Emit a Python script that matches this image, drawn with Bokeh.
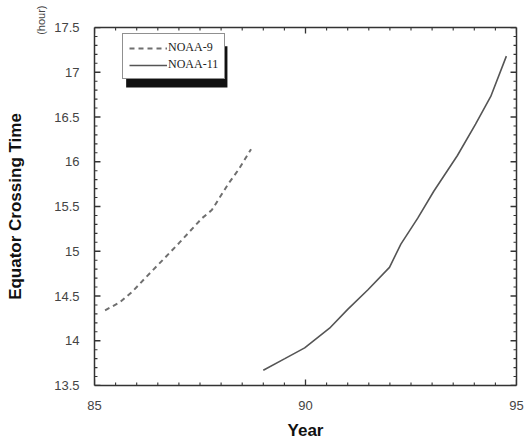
from bokeh.plotting import figure
from bokeh.models import (Range1d, LinearAxis, Legend, LegendItem, Title,
                          FixedTicker, BoxAnnotation)
from bokeh.embed import file_html
from bokeh.resources import INLINE

# --- data ---
noaa9_year = [85.25, 85.6, 85.9, 86.2, 86.53, 87.0, 87.55, 87.78, 88.18, 88.41, 88.71]
noaa9_time = [14.34, 14.43, 14.55, 14.70, 14.86, 15.09, 15.37, 15.46, 15.76, 15.91, 16.14]
noaa11_year = [89.0, 89.51, 89.98, 90.57, 91.0, 91.48, 91.99, 92.26, 92.66, 93.04, 93.6, 94.03, 94.39, 94.76]
noaa11_time = [13.67, 13.80, 13.92, 14.14, 14.35, 14.57, 14.82, 15.08, 15.37, 15.67, 16.07, 16.42, 16.73, 17.18]
x_ticks = [85, 90, 95]
x_minor = [85.5, 86, 86.5, 87, 87.5, 88, 88.5, 89, 89.5, 90.5, 91, 91.5, 92, 92.5, 93, 93.5, 94, 94.5]
y_ticks = [13.5, 14, 14.5, 15, 15.5, 16, 16.5, 17, 17.5]
y_minor = [round(13.5 + 0.1 * i, 1) for i in range(41) if i % 5 != 0]
legend_labels = ["NOAA-9", "NOAA-11"]
x_title = "Year"
y_title = "Equator Crossing Time"
y_unit = "(hour)"

X0, X1 = 85, 95
Y0, Y1 = 13.5, 17.5
W, H = 525, 442
ML, MR, MT, MB = 92, 9, 27, 52
p = figure(width=W, height=H, output_backend="svg", toolbar_location=None,
           x_range=Range1d(X0, X1), y_range=Range1d(Y0, Y1),
           min_border_left=ML, min_border_right=MR, min_border_top=MT, min_border_bottom=MB,
           x_axis_label=x_title)
p.grid.visible = False
p.outline_line_color = None
p.background_fill_color = "white"
p.border_fill_color = "white"

axis_col = "#333333"

def style_axis(ax, labels=True):
    ax.axis_line_color = axis_col
    ax.axis_line_width = 1.5
    ax.major_tick_line_color = None
    ax.minor_tick_line_color = None
    if labels:
        ax.major_label_text_font = "Liberation Sans"
        ax.major_label_text_font_size = "13px"
        ax.major_label_text_color = "#444444"
        ax.major_label_standoff = 9
    else:
        ax.major_label_text_color = None

xa = p.xaxis[0]
ya = p.yaxis[0]
xa.ticker = FixedTicker(ticks=x_ticks, minor_ticks=x_minor)
ya.ticker = FixedTicker(ticks=y_ticks, minor_ticks=y_minor)
style_axis(xa)
style_axis(ya)
xa.axis_label_text_font = "Liberation Sans"
xa.axis_label_text_font_style = "bold"
xa.axis_label_text_font_size = "17px"
xa.axis_label_text_color = "#111111"
xa.axis_label_standoff = 8

top = LinearAxis(ticker=FixedTicker(ticks=x_ticks, minor_ticks=x_minor))
style_axis(top, labels=False)
p.add_layout(top, "above")
right = LinearAxis(ticker=FixedTicker(ticks=y_ticks, minor_ticks=y_minor))
style_axis(right, labels=False)
p.add_layout(right, "right")

# inward tick marks, built from the tick lists (length given in pixels)
fw, fh = W - ML - MR, H - MT - MB
dx = (X1 - X0) / fw   # data units per pixel, x
dy = (Y1 - Y0) / fh   # data units per pixel, y

def tick_segments(vals, length):
    xs0, ys0, xs1, ys1 = [], [], [], []
    return xs0, ys0, xs1, ys1

for vals, ln, lw in ((x_ticks, 6, 1.3), (x_minor, 3, 1.1)):
    # bottom and top
    p.segment(x0=vals + vals, y0=[Y0] * len(vals) + [Y1] * len(vals),
              x1=vals + vals, y1=[Y0 + ln * dy] * len(vals) + [Y1 - ln * dy] * len(vals),
              line_color=axis_col, line_width=lw)
for vals, ln, lw in ((y_ticks, 6, 1.3), (y_minor, 3, 1.1)):
    # left and right
    p.segment(x0=[X0] * len(vals) + [X1] * len(vals), y0=vals + vals,
              x1=[X0 + ln * dx] * len(vals) + [X1 - ln * dx] * len(vals), y1=vals + vals,
              line_color=axis_col, line_width=lw)

# y titles: unit nearest the axis, then the main label
t_unit = Title(text=y_unit, align="right", offset=-22, standoff=10,
               text_font="Liberation Sans", text_font_size="11px",
               text_font_style="normal", text_color="#444444")
t_main = Title(text=y_title, align="center", standoff=6,
               text_font="Liberation Sans", text_font_size="17px",
               text_font_style="bold", text_color="#111111")
p.add_layout(t_unit, "left")
p.add_layout(t_main, "left")

r9 = p.line(noaa9_year, noaa9_time, line_color="#6f6f6f", line_width=2, line_dash="5 4")
r11 = p.line(noaa11_year, noaa11_time, line_color="#555555", line_width=1.6)

# legend shadow
p.add_layout(BoxAnnotation(left=85.75, right=88.15, top=17.29, bottom=16.83,
                           fill_color="#111111", fill_alpha=1, line_color=None))

leg = Legend(items=[LegendItem(label=legend_labels[0], renderers=[r9]),
                    LegendItem(label=legend_labels[1], renderers=[r11])],
             location=(28, 306), orientation="vertical")
leg.label_text_font = "Liberation Serif"
leg.label_text_font_size = "12px"
leg.label_text_color = "#222222"
leg.label_height = 14
leg.glyph_height = 14
leg.glyph_width = 38
leg.label_standoff = 1
leg.spacing = 2
leg.padding = 6
leg.margin = 0
leg.border_line_color = "#222222"
leg.border_line_width = 1
leg.background_fill_color = "white"
leg.background_fill_alpha = 1
p.add_layout(leg, "center")

open("out.html", "w").write(file_html(p, INLINE))
